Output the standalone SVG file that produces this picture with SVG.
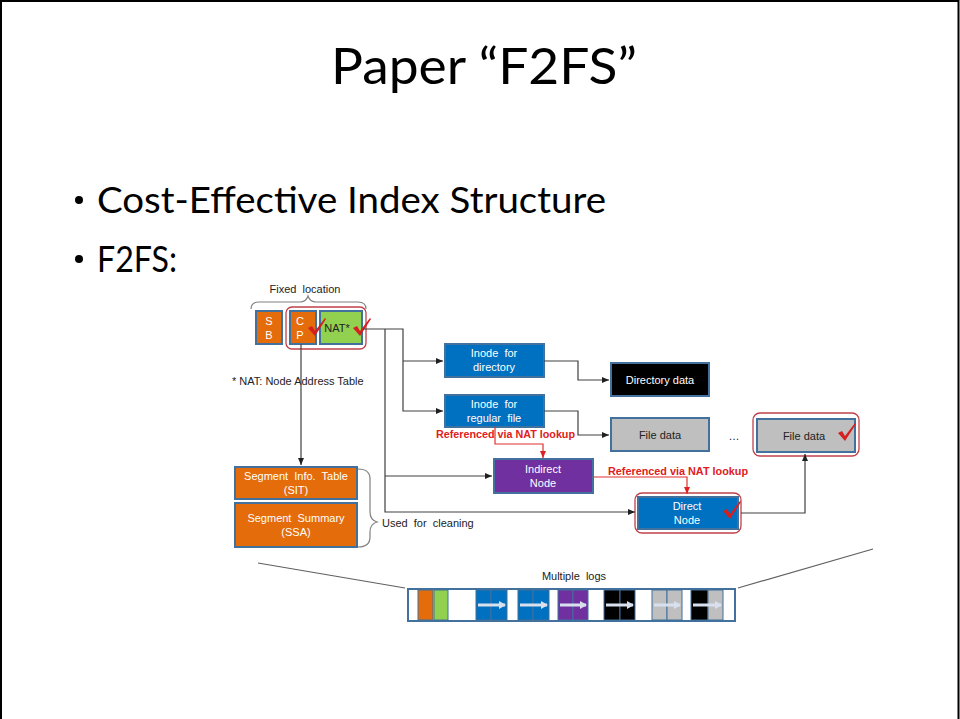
<svg xmlns="http://www.w3.org/2000/svg" width="960" height="719" viewBox="0 0 960 719">
<style>
.ttl{font-family:Lato,"Open Sans",sans-serif;fill:#000}
.d{font-family:"Liberation Sans",Arial,sans-serif;font-size:11px;white-space:pre}
.w{fill:#fff}
.k{fill:#222}
.rt{font-family:"Liberation Sans",Arial,sans-serif;font-size:11px;font-weight:bold;fill:#E02020}
.box{stroke:#41719C;stroke-width:2}
.con{fill:none;stroke:#404040;stroke-width:1.2}
.red{fill:none;stroke:#E03030;stroke-width:1.2}
.hl{fill:none;stroke:#C0404A;stroke-width:1.3}
.br{fill:none;stroke:#808080;stroke-width:1.2}
.cell{stroke:#41719C;stroke-width:1}
.la{stroke:#D8E0EE;stroke-width:3;marker-end:url(#wa)}
</style>
<defs>
<marker id="ab" markerWidth="8" markerHeight="8" refX="7" refY="4" orient="auto" markerUnits="userSpaceOnUse"><path d="M0,1 L7,4 L0,7 Z" fill="#202020"/></marker>
<marker id="ar" markerWidth="8" markerHeight="8" refX="7" refY="4" orient="auto" markerUnits="userSpaceOnUse"><path d="M0,1 L7,4 L0,7 Z" fill="#E02020"/></marker>
<marker id="wa" markerWidth="8" markerHeight="8" refX="6" refY="4" orient="auto" markerUnits="userSpaceOnUse"><path d="M0,0 L7,4 L0,8 Z" fill="#D8E0EE"/></marker>
<path id="tick" d="M0,10 L4,8 L7,13 L17,0 L18,1 L7,18 Z" fill="#D42020"/>
</defs>
<rect width="960" height="719" fill="#fff"/>
<path d="M1,719 V1 H958.5 V719" fill="none" stroke="#000" stroke-width="2"/>
<text class="ttl" x="484" y="84" font-size="50" text-anchor="middle" textLength="306" lengthAdjust="spacingAndGlyphs">Paper “F2FS”</text>
<circle cx="79" cy="200" r="4"/>
<text class="ttl" x="97" y="213" font-size="37" textLength="509" lengthAdjust="spacingAndGlyphs">Cost-Effective Index Structure</text>
<circle cx="79" cy="259" r="4"/>
<text class="ttl" x="97" y="272" font-size="37" textLength="80" lengthAdjust="spacingAndGlyphs">F2FS:</text>
<g id="fixed-location">
<text class="d k" x="305" y="293" text-anchor="middle">Fixed  location</text>
<path class="br" d="M251,309 Q251,302 259,302 L300,302 Q306,302 308,296 Q310,302 316,302 L358,302 Q366,302 366,309"/>
</g>
<g id="sb"><rect class="box" x="256" y="311" width="26" height="33" fill="#E46C0A"/><text class="d w" x="269" y="325" text-anchor="middle">S</text><text class="d w" x="269" y="339" text-anchor="middle">B</text></g>
<g id="cp"><rect class="box" x="290" y="311" width="26" height="33" fill="#E46C0A"/><text class="d w" x="300" y="325" text-anchor="middle">C</text><text class="d w" x="300" y="339" text-anchor="middle">P</text></g>
<g id="nat"><rect class="box" x="320" y="311" width="42" height="33" fill="#92D050"/><text class="d k" x="337" y="332" text-anchor="middle">NAT*</text></g>
<rect class="hl" x="286" y="307" width="80" height="42" rx="6"/>
<use href="#tick" x="308" y="318"/>
<use href="#tick" x="353" y="318"/>
<text class="d k" x="232" y="385">* NAT: Node Address Table</text>
<g id="sit"><rect class="box" x="235" y="467" width="122" height="32" fill="#E46C0A"/><text class="d w" x="296" y="480" text-anchor="middle">Segment  Info.  Table</text><text class="d w" x="296" y="494" text-anchor="middle">(SIT)</text></g>
<g id="ssa"><rect class="box" x="235" y="503" width="122" height="44" fill="#E46C0A"/><text class="d w" x="296" y="522" text-anchor="middle">Segment  Summary</text><text class="d w" x="296" y="536" text-anchor="middle">(SSA)</text></g>
<g id="cleaning">
<path class="br" d="M358,469 Q370,469 370,479 L370,512 Q370,520 377,522 Q370,524 370,532 L370,537 Q370,547 358,547"/>
<text class="d k" x="382" y="527">Used  for  cleaning</text>
</g>
<g id="inode-dir"><rect class="box" x="445" y="344" width="99" height="33" fill="#0070C0"/><text class="d w" x="494" y="357" text-anchor="middle">Inode  for</text><text class="d w" x="494" y="371" text-anchor="middle">directory</text></g>
<g id="inode-file"><rect class="box" x="445" y="395" width="99" height="32" fill="#0070C0"/><text class="d w" x="494" y="408" text-anchor="middle">Inode  for</text><text class="d w" x="494" y="422" text-anchor="middle">regular  file</text></g>
<g id="dir-data"><rect class="box" x="611" y="363" width="98" height="33" fill="#000"/><text class="d w" x="660" y="384" text-anchor="middle" font-size="12">Directory data</text></g>
<g id="file-data-1"><rect class="box" x="611" y="418" width="98" height="33" fill="#BFBFBF"/><text class="d k" x="660" y="439" text-anchor="middle" font-size="12">File data</text></g>
<text class="d k" x="734" y="440" text-anchor="middle" font-size="12">…</text>
<g id="file-data-2"><rect class="box" x="757" y="419" width="98" height="33" fill="#BFBFBF"/><text class="d k" x="804" y="440" text-anchor="middle" font-size="12">File data</text><rect class="hl" x="753" y="413" width="106" height="43" rx="7"/><use href="#tick" x="838" y="423"/></g>
<g id="indirect"><rect class="box" x="494" y="459" width="99" height="34" fill="#7030A0"/><text class="d w" x="543" y="473" text-anchor="middle">Indirect</text><text class="d w" x="543" y="487" text-anchor="middle">Node</text></g>
<g id="direct"><rect class="box" x="638" y="497" width="100" height="32" fill="#0070C0"/><text class="d w" x="687" y="510" text-anchor="middle">Direct</text><text class="d w" x="687" y="524" text-anchor="middle">Node</text><rect class="hl" x="635" y="493" width="106" height="40" rx="7"/><use href="#tick" x="723" y="501"/></g>
<g id="connectors">
<path class="con" d="M363,329 H403 V411 H443" marker-end="url(#ab)"/>
<path class="con" d="M403,361 H443" marker-end="url(#ab)"/>
<path class="con" d="M385,329 V512 H635" marker-end="url(#ab)"/>
<path class="con" d="M385,476 H492" marker-end="url(#ab)"/>
<path class="con" d="M301,344 V465" marker-end="url(#ab)"/>
<path class="con" d="M544,361 H578 V380 H609" marker-end="url(#ab)"/>
<path class="con" d="M544,411 H578 V435 H609" marker-end="url(#ab)"/>
<path class="con" d="M741,513 H805 V454" marker-end="url(#ab)"/>
<path class="red" d="M495,427 V444 H543 V458" marker-end="url(#ar)"/>
<path class="red" d="M593,477 H687 V494" marker-end="url(#ar)"/>
</g>
<text class="rt" x="436" y="438" textLength="139" lengthAdjust="spacingAndGlyphs">Referenced via NAT lookup</text>
<text class="rt" x="608" y="475" textLength="140" lengthAdjust="spacingAndGlyphs">Referenced via NAT lookup</text>
<g id="multiple-logs">
<path d="M258,563 L405,588 M738,588 L873,549" stroke="#606060" stroke-width="1.2" fill="none"/>
<text class="d k" x="574" y="580" text-anchor="middle" font-size="10.5">Multiple  logs</text>
<rect x="408" y="589" width="327" height="32" fill="#fff" stroke="#41719C" stroke-width="2"/>
<rect class="cell" x="418" y="590" width="15" height="30" fill="#E46C0A"/>
<rect class="cell" x="434" y="590" width="14" height="30" fill="#92D050"/>
<rect class="cell" x="476" y="590" width="15" height="30" fill="#0070C0"/><rect class="cell" x="491" y="590" width="16" height="30" fill="#0070C0"/>
<rect class="cell" x="518" y="590" width="15" height="30" fill="#0070C0"/><rect class="cell" x="533" y="590" width="16" height="30" fill="#0070C0"/>
<rect class="cell" x="558" y="590" width="15" height="30" fill="#7030A0"/><rect class="cell" x="573" y="590" width="15" height="30" fill="#7030A0"/>
<rect class="cell" x="604" y="590" width="16" height="30" fill="#000"/><rect class="cell" x="620" y="590" width="15" height="30" fill="#000"/>
<rect class="cell" x="652" y="590" width="15" height="30" fill="#BFBFBF"/><rect class="cell" x="667" y="590" width="15" height="30" fill="#BFBFBF"/>
<rect class="cell" x="691" y="590" width="17" height="30" fill="#000"/><rect class="cell" x="708" y="590" width="15" height="30" fill="#BFBFBF"/>
<line class="la" x1="478" y1="605" x2="505" y2="605"/>
<line class="la" x1="520" y1="605" x2="547" y2="605"/>
<line class="la" x1="560" y1="605" x2="586" y2="605"/>
<line class="la" x1="606" y1="605" x2="633" y2="605"/>
<line class="la" x1="654" y1="605" x2="680" y2="605"/>
<line class="la" x1="693" y1="605" x2="721" y2="605"/>
</g>
</svg>
